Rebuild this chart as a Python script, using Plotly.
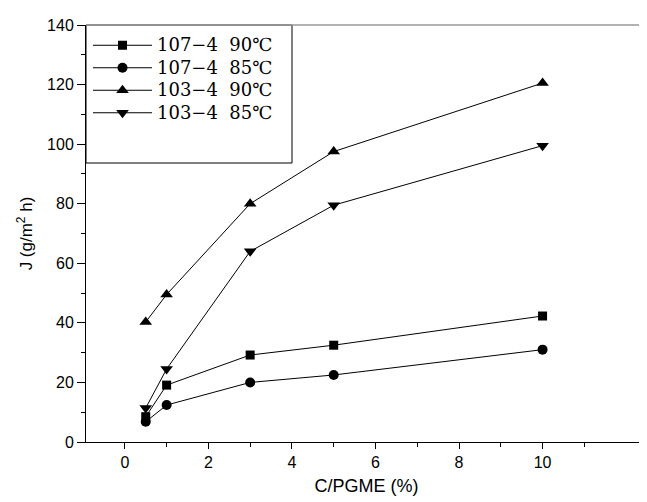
import plotly.graph_objects as go

x_vals = [0.5, 1, 3, 5, 10]
s_107_90 = [8.5, 19.1, 29.2, 32.5, 42.3]
s_107_85 = [6.8, 12.4, 20.0, 22.5, 31.0]
s_103_90 = [40.3, 49.5, 80.0, 97.5, 120.5]
s_103_85 = [11.4, 24.5, 64.0, 79.5, 99.5]
names = ["107\u22124  90\u2103", "107\u22124  85\u2103", "103\u22124  90\u2103", "103\u22124  85\u2103"]
symbols = ["square", "circle", "triangle-up", "triangle-down"]
sizes = [9, 10, 11, 11]

fig = go.Figure()
for ys, nm, sym, sz in zip([s_107_90, s_107_85, s_103_90, s_103_85], names, symbols, sizes):
    fig.add_trace(go.Scatter(
        x=x_vals, y=ys, name="<span style='font-size:18px'>" + nm + "</span>",
        mode="lines+markers",
        line=dict(color="black", width=1),
        marker=dict(symbol=sym, size=sz, color="black"),
    ))

# body margin of 8px in the page shifts the figure; compensate in margins
L, T, B, R = 78, 17, 68, 8
W, H = 647, 502
pw = W - L - R
ph = H - T - B

fig.update_layout(
    width=W, height=H,
    margin=dict(l=L, r=R, t=T, b=B, autoexpand=False),
    paper_bgcolor="white", plot_bgcolor="white",
    showlegend=True,
    legend=dict(x=2/pw, y=1 - 4/ph, xanchor="left", yanchor="top",
                bgcolor="rgba(0,0,0,0)", borderwidth=0,
                font=dict(family="DejaVu Serif, Noto Sans CJK SC", size=15, color="black"),
                itemwidth=59, tracegroupgap=0,
                xref="paper", yref="paper"),
    font=dict(family="Liberation Sans, Arial", color="black"),
    xaxis=dict(range=[-0.93, 12.5], tickvals=[0, 2, 4, 6, 8, 10], automargin=False,
               showgrid=False, zeroline=False, showline=True, linecolor="black", linewidth=1,
               ticks="outside", ticklen=6, tickcolor="black",
               minor=dict(tickvals=[1, 3, 5, 7, 9, 11], ticks="outside", ticklen=4, tickcolor="black"),
               tickfont=dict(size=16),
               title=dict(text="C/PGME (%)", font=dict(size=18), standoff=9)),
    yaxis=dict(range=[0, 140], tickvals=[0, 20, 40, 60, 80, 100, 120, 140], automargin=False,
               showgrid=False, zeroline=False, showline=True, linecolor="black", linewidth=1,
               ticks="outside", ticklen=8, tickcolor="black",
               minor=dict(tickvals=[10, 30, 50, 70, 90, 110, 130], ticks="outside", ticklen=4, tickcolor="black"),
               tickfont=dict(size=16),
               title=dict(text="J (g/m<sup>2</sup> h)", font=dict(size=17), standoff=10)),
    shapes=[
        dict(type="line", xref="paper", yref="paper", x0=0, x1=1, y0=1, y1=1,
             line=dict(color="#999999", width=1.5)),
        dict(type="rect", xref="paper", yref="paper", x0=0, x1=206/pw, y0=(442-163)/417, y1=1,
             line=dict(color="black", width=1), fillcolor="white", layer="below"),
    ],
)

fig.write_html("out.html")
